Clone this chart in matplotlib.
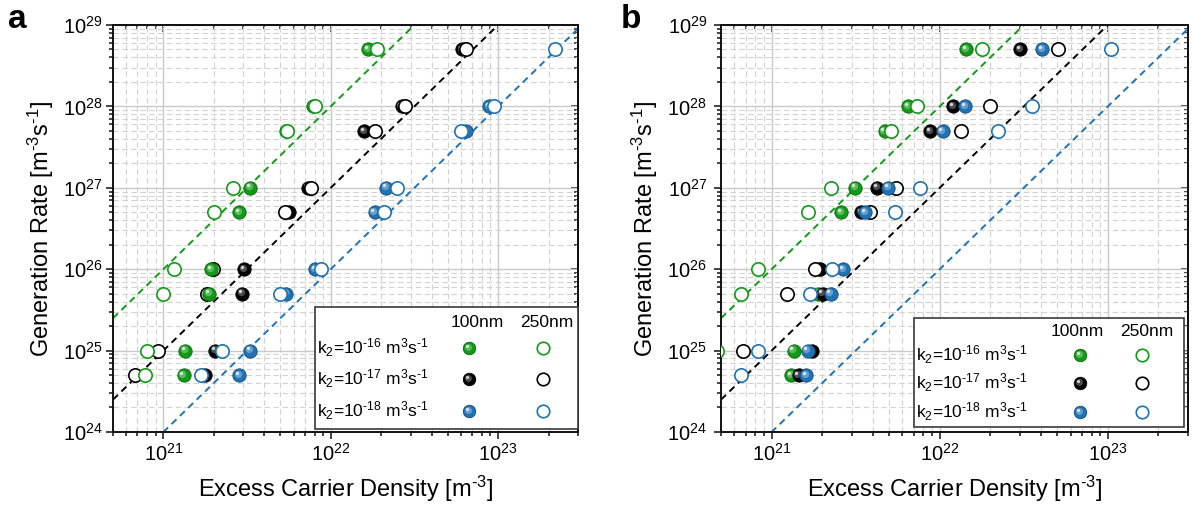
import numpy as np
import matplotlib
matplotlib.use("Agg")
import matplotlib.pyplot as plt
from matplotlib.transforms import offset_copy
from matplotlib.colors import to_rgb
from matplotlib.patches import Rectangle
from matplotlib.ticker import LogLocator, NullFormatter

plt.rcParams["font.family"] = ["Liberation Sans", "DejaVu Sans"]
plt.rcParams["mathtext.fontset"] = "custom"
plt.rcParams["mathtext.rm"] = "Liberation Sans"
plt.rcParams["mathtext.it"] = "Liberation Sans:italic"
plt.rcParams["mathtext.bf"] = "Liberation Sans:bold"
plt.rcParams["mathtext.default"] = "regular"

nan = np.nan

# Generation rates shared by every series [m^-3 s^-1]
generation = [5e24, 1e25, 5e25, 1e26, 5e26, 1e27, 5e27, 1e28, 5e28]

# Bimolecular recombination constants [m^3 s^-1]
k2_values = [1e-16, 1e-17, 1e-18]
k2_labels = [r"k$_2$=10$^{\text{-}16}$ m$^3$s$^{\text{-}1}$",
             r"k$_2$=10$^{\text{-}17}$ m$^3$s$^{\text{-}1}$",
             r"k$_2$=10$^{\text{-}18}$ m$^3$s$^{\text{-}1}$"]
thickness_labels = ["100nm", "250nm"]
colors = ["#119a16", "#000000", "#1f72b4"]

# Panel a: excess carrier density [m^-3]
a_k16_100 = [1.32e21, 1.35e21, 1.88e21, 1.93e21, 2.83e21, 3.3e21, 5.4e21, 7.8e21, 1.68e22]
a_k16_250 = [7.8e20, 8.0e20, 9.9e20, 1.16e21, 2.01e21, 2.61e21, 5.5e21, 8.1e21, 1.88e22]
a_k17_100 = [1.78e21, 2.04e21, 2.95e21, 3.03e21, 5.6e21, 7.3e21, 1.59e22, 2.65e22, 6.1e22]
a_k17_250 = [6.8e20, 9.3e20, 1.83e21, 1.99e21, 5.3e21, 7.6e21, 1.85e22, 2.79e22, 6.45e22]
a_k18_100 = [2.83e21, 3.3e21, 5.4e21, 8.1e21, 1.83e22, 2.15e22, 6.45e22, 8.8e22, nan]
a_k18_250 = [1.68e21, 2.24e21, 5.0e21, 8.7e21, 2.07e22, 2.5e22, 6.0e22, 9.5e22, 2.2e23]

# Panel b: excess carrier density [m^-3]
b_k16_100 = [1.30e21, 1.35e21, 1.88e21, 1.90e21, 2.6e21, 3.15e21, 4.7e21, 6.5e21, 1.44e22]
b_k16_250 = [nan, 4.7e20, 6.6e20, 8.3e20, 1.64e21, 2.24e21, 5.15e21, 7.3e21, 1.79e22]
b_k17_100 = [1.45e21, 1.73e21, 2.01e21, 1.93e21, 3.42e21, 4.25e21, 8.8e21, 1.2e22, 3.0e22]
b_k17_250 = [nan, 6.8e20, 1.24e21, 1.8e21, 3.87e21, 5.5e21, 1.34e22, 2.0e22, 5.05e22]
b_k18_100 = [1.61e21, 1.64e21, 2.24e21, 2.67e21, 3.6e21, 4.95e21, 1.04e22, 1.42e22, 4.05e22]
b_k18_250 = [6.6e20, 8.3e20, 1.7e21, 2.3e21, 5.4e21, 7.65e21, 2.22e22, 3.54e22, 1.04e23]

x_limits = (5e20, 3e23)
y_limits = (1e24, 1e29)


def tint(color, amount):
    r, g, b = to_rgb(color)
    return (r + (1 - r) * amount, g + (1 - g) * amount, b + (1 - b) * amount)


def shade(color, amount):
    r, g, b = to_rgb(color)
    return (r * (1 - amount), g * (1 - amount), b * (1 - amount))


def sphere(ax, x, y, color, ms=9.6, transform=None, z=3):
    """Filled circle with a glossy highlight."""
    fig = ax.figure
    base = ax.transData if transform is None else transform
    ax.plot(x, y, ls="none", marker="o", ms=ms, mfc=color,
            mec=shade(color, 0.35) if color != "#000000" else "#000000",
            mew=0.6, transform=base, zorder=z, clip_on=True)
    hi1 = offset_copy(base, fig=fig, x=-1.3, y=1.3, units="dots")
    hi2 = offset_copy(base, fig=fig, x=-2.3, y=2.3, units="dots")
    glow = tint(color, 0.35) if color != "#000000" else "#555555"
    ax.plot(x, y, ls="none", marker="o", ms=ms * 0.55, mfc=glow, mec="none",
            alpha=0.9, transform=hi1, zorder=z + 0.01)
    ax.plot(x, y, ls="none", marker="o", ms=ms * 0.25, mfc=tint(color, 0.85),
            mec="none", alpha=0.95, transform=hi2, zorder=z + 0.02)


def ring(ax, x, y, color, ms=9.6, transform=None, z=3, clip=True):
    base = ax.transData if transform is None else transform
    ax.plot(x, y, ls="none", marker="o", ms=ms, mfc="white", mec=color,
            mew=1.2, transform=base, zorder=z, clip_on=clip)


def style_axes(ax, tick_pad):
    ax.set_xscale("log")
    ax.set_yscale("log")
    ax.set_xlim(*x_limits)
    ax.set_ylim(*y_limits)
    ax.xaxis.set_major_locator(LogLocator(base=10, numticks=20))
    ax.xaxis.set_minor_locator(LogLocator(base=10, subs=np.arange(2, 10), numticks=50))
    ax.yaxis.set_major_locator(LogLocator(base=10, numticks=20))
    ax.yaxis.set_minor_locator(LogLocator(base=10, subs=np.arange(2, 10), numticks=50))
    ax.xaxis.set_minor_formatter(NullFormatter())
    ax.yaxis.set_minor_formatter(NullFormatter())
    ax.set_axisbelow(True)
    ax.grid(True, which="major", color="#c9c9c9", lw=1.0, ls="-")
    ax.grid(True, which="minor", color="#d2d2d2", lw=0.8, ls=(0, (5, 3)))
    for s in ax.spines.values():
        s.set_linewidth(1.4)
        s.set_color("#111111")
    ax.tick_params(which="both", direction="out", top=False, right=False,
                   labelsize=14.5, width=1.1, color="#111111")
    ax.tick_params(which="major", length=5, pad=2.5)
    ax.tick_params(axis="y", which="major", pad=tick_pad)
    ax.tick_params(which="minor", length=2.8)
    # mirrored inward ticks on the top and right edges
    sec_x = ax.secondary_xaxis("top")
    sec_y = ax.secondary_yaxis("right")
    for sec, axis in ((sec_x, "x"), (sec_y, "y")):
        sec.tick_params(which="both", direction="in", width=1.1, color="#111111")
        sec.tick_params(which="major", length=5)
        sec.tick_params(which="minor", length=2.8)
        if axis == "x":
            sec.xaxis.set_major_locator(LogLocator(base=10, numticks=20))
            sec.xaxis.set_minor_locator(LogLocator(base=10, subs=np.arange(2, 10), numticks=50))
            sec.xaxis.set_major_formatter(NullFormatter())
            sec.xaxis.set_minor_formatter(NullFormatter())
        else:
            sec.yaxis.set_major_locator(LogLocator(base=10, numticks=20))
            sec.yaxis.set_minor_locator(LogLocator(base=10, subs=np.arange(2, 10), numticks=50))
            sec.yaxis.set_major_formatter(NullFormatter())
            sec.yaxis.set_minor_formatter(NullFormatter())
        sec.spines[:].set_linewidth(1.4)
    ax.set_xlabel(r"Excess Carrier Density [m$^{\text{-}3}$]", fontsize=17, labelpad=7)
    ax.set_ylabel(r"Generation Rate [m$^{\text{-}3}$s$^{\text{-}1}$]", fontsize=17, labelpad=5)


def fit_lines(ax):
    n_line = np.array(x_limits)
    for k2, c in zip(k2_values, colors):
        ax.plot(n_line, k2 * n_line ** 2, color=c, lw=1.4, ls=(0, (3.5, 2.5)), zorder=2)


def legend_box(ax, box, header_y, col_x, text_x, marker_x, rows_y):
    t = ax.transAxes
    ax.add_patch(Rectangle((box[0], box[1]), box[2] - box[0], box[3] - box[1],
                           transform=t, facecolor="white", edgecolor="#3a3a3a",
                           lw=1.2, zorder=10, clip_on=False))
    for lab, cx in zip(thickness_labels, col_x):
        ax.text(cx, header_y, lab, transform=t, ha="center", va="center",
                fontsize=12.5, zorder=11)
    for lab, c, yy in zip(k2_labels, colors, rows_y):
        ax.text(text_x, yy, lab, transform=t, ha="left", va="center",
                fontsize=12.5, zorder=11)
        sphere(ax, [marker_x[0]], [yy], c, ms=9.0, transform=t, z=11)
        ring(ax, [marker_x[1]], [yy], c, ms=9.0, transform=t, z=11, clip=False)


fig = plt.figure(figsize=(11.92, 5.11), dpi=100)
ax_a = fig.add_axes([0.0948, 0.1546, 0.3901, 0.7965])
ax_b = fig.add_axes([0.6049, 0.1546, 0.3918, 0.7965])

style_axes(ax_a, 2.5)
style_axes(ax_b, 5.0)
for ax in (ax_a, ax_b):
    fit_lines(ax)

# Panel a: black drawn first, then green, then blue
panel_a = [(a_k17_100, a_k17_250, colors[1]),
           (a_k16_100, a_k16_250, colors[0]),
           (a_k18_100, a_k18_250, colors[2])]
z = 3
for filled, hollow, c in panel_a:
    sphere(ax_a, filled, generation, c, z=z)
    ring(ax_a, hollow, generation, c, z=z + 0.5)
    z += 1

# Panel b: green drawn first, then black, then blue
panel_b = [(b_k16_100, b_k16_250, colors[0]),
           (b_k17_100, b_k17_250, colors[1]),
           (b_k18_100, b_k18_250, colors[2])]
z = 3
for filled, hollow, c in panel_b:
    sphere(ax_b, filled, generation, c, z=z)
    ring(ax_b, hollow, generation, c, z=z + 0.5)
    z += 1

legend_box(ax_a, (0.434, 0.007, 1.0, 0.307), 0.270, (0.783, 0.933), 0.439,
           (0.766, 0.925), (0.206, 0.130, 0.052))
legend_box(ax_b, (0.413, 0.012, 0.991, 0.280), 0.248, (0.762, 0.912), 0.418,
           (0.769, 0.901), (0.189, 0.120, 0.049))

fig.text(8 / 1192, 1 - 28 / 511, "a", fontsize=24, fontweight="bold", ha="left", va="baseline")
fig.text(621 / 1192, 1 - 28 / 511, "b", fontsize=24, fontweight="bold", ha="left", va="baseline")

fig.savefig("out.png", dpi=100)
